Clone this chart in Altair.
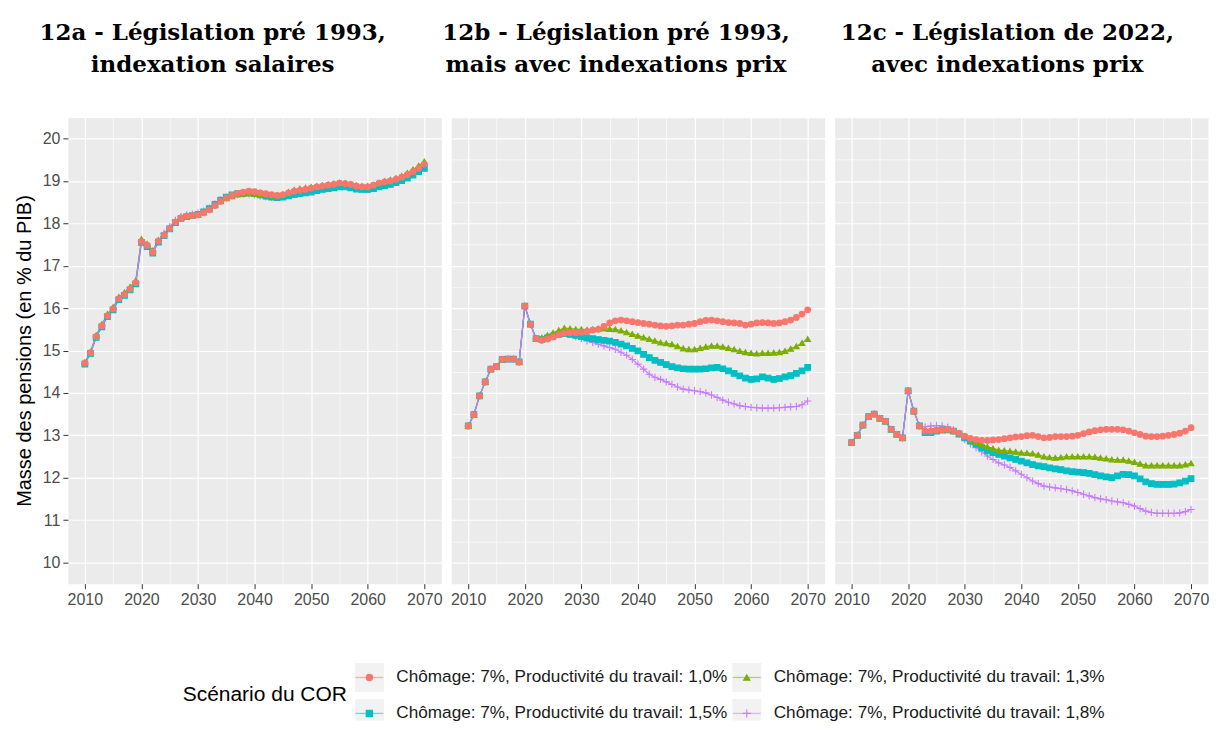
import altair as alt
import pandas as pd

years = list(range(2010, 2071))

series_names = [
    "Chômage: 7%, Productivité du travail: 1,0%",
    "Chômage: 7%, Productivité du travail: 1,3%",
    "Chômage: 7%, Productivité du travail: 1,5%",
    "Chômage: 7%, Productivité du travail: 1,8%",
]
colors = ["#F8766D", "#7CAE00", "#00BFC4", "#C77CFF"]
plus_path = "M-1.3,0H1.3M0,-1.3V1.3"
shapes = ["circle", "triangle-up", "square", plus_path]
legend_title = ["Scénario du COR"]

panel_keys = ["A", "B", "C"]
panel_titles = [
    ["12a - Législation pré 1993,", "indexation salaires"],
    ["12b - Législation pré 1993,", "mais avec indexations prix"],
    ["12c - Législation de 2022,", "avec indexations prix"],
]

# ---- Panel 12a (2010..2070) ----
A_red = [14.70, 14.95, 15.33, 15.58, 15.82, 15.98, 16.22, 16.32, 16.45, 16.60,
         17.57, 17.48, 17.32, 17.58, 17.72, 17.88, 18.03, 18.13, 18.17, 18.18,
         18.20, 18.25, 18.32, 18.42, 18.52, 18.60, 18.66, 18.71, 18.74, 18.76,
         18.75, 18.72, 18.70, 18.68, 18.66, 18.67, 18.72, 18.76, 18.78, 18.80,
         18.83, 18.86, 18.88, 18.90, 18.92, 18.95, 18.94, 18.92, 18.88, 18.86,
         18.86, 18.90, 18.95, 18.98, 19.00, 19.04, 19.09, 19.15, 19.22, 19.30, 19.40]
A_green = [14.72, 14.97, 15.36, 15.62, 15.86, 16.02, 16.26, 16.37, 16.50, 16.65,
           17.63, 17.52, 17.36, 17.60, 17.75, 17.90, 18.05, 18.14, 18.18, 18.20,
           18.21, 18.26, 18.33, 18.43, 18.52, 18.59, 18.64, 18.68, 18.70, 18.71,
           18.70, 18.68, 18.67, 18.66, 18.66, 18.69, 18.74, 18.79, 18.82, 18.84,
           18.86, 18.88, 18.90, 18.92, 18.94, 18.96, 18.95, 18.93, 18.90, 18.88,
           18.88, 18.91, 18.96, 19.00, 19.03, 19.07, 19.12, 19.19, 19.27, 19.36, 19.46]
A_cyan = [14.68, 14.93, 15.31, 15.56, 15.80, 15.96, 16.20, 16.30, 16.43, 16.57,
          17.55, 17.45, 17.30, 17.56, 17.71, 17.87, 18.02, 18.12, 18.16, 18.18,
          18.21, 18.27, 18.35, 18.45, 18.55, 18.62, 18.67, 18.70, 18.71, 18.72,
          18.70, 18.67, 18.64, 18.62, 18.61, 18.62, 18.65, 18.68, 18.70, 18.72,
          18.74, 18.77, 18.80, 18.82, 18.84, 18.86, 18.86, 18.84, 18.81, 18.80,
          18.80, 18.82, 18.86, 18.89, 18.92, 18.96, 19.01, 19.07, 19.14, 19.22, 19.30]
A_purple = [14.70, 14.95, 15.34, 15.60, 15.84, 16.00, 16.24, 16.35, 16.48, 16.62,
            17.58, 17.47, 17.33, 17.60, 17.76, 17.92, 18.07, 18.16, 18.20, 18.22,
            18.24, 18.29, 18.36, 18.46, 18.55, 18.61, 18.65, 18.68, 18.69, 18.70,
            18.68, 18.65, 18.63, 18.62, 18.62, 18.64, 18.68, 18.72, 18.75, 18.77,
            18.79, 18.82, 18.85, 18.87, 18.89, 18.91, 18.91, 18.89, 18.86, 18.84,
            18.84, 18.87, 18.91, 18.94, 18.97, 19.01, 19.06, 19.12, 19.19, 19.27, 19.36]

# ---- Panel 12b: common 2010..2022, then 2023..2070 per scenario ----
B_early = [13.22, 13.49, 13.93, 14.26, 14.56, 14.62, 14.79, 14.80, 14.80, 14.73,
           16.05, 15.62, 15.28]
B_red = [15.24, 15.27, 15.32, 15.37, 15.41, 15.42, 15.42,
         15.43, 15.45, 15.48, 15.50, 15.57, 15.65, 15.70, 15.72, 15.70, 15.68,
         15.66, 15.64, 15.62, 15.60, 15.58, 15.57, 15.58, 15.60, 15.60, 15.62,
         15.64, 15.68, 15.71, 15.72, 15.70, 15.68, 15.66, 15.65, 15.64, 15.60,
         15.62, 15.65, 15.66, 15.65, 15.64, 15.65, 15.68, 15.72, 15.78, 15.86, 15.96]
B_green = [15.30, 15.36, 15.42, 15.48, 15.53, 15.52, 15.50,
           15.50, 15.49, 15.50, 15.52, 15.52, 15.51, 15.50, 15.47, 15.43, 15.39,
           15.35, 15.31, 15.27, 15.23, 15.19, 15.17, 15.15, 15.10, 15.05, 15.03,
           15.03, 15.06, 15.09, 15.11, 15.11, 15.09, 15.06, 15.03, 14.99, 14.96,
           14.94, 14.93, 14.94, 14.94, 14.95, 14.96, 14.99, 15.04, 15.10, 15.18, 15.27]
B_cyan = [15.26, 15.30, 15.34, 15.38, 15.40, 15.38, 15.36,
          15.33, 15.30, 15.28, 15.26, 15.24, 15.22, 15.19, 15.15, 15.11, 15.05,
          14.99, 14.91, 14.83, 14.77, 14.72, 14.67, 14.62, 14.59, 14.57, 14.56,
          14.56, 14.56, 14.57, 14.59, 14.60, 14.57, 14.52, 14.46, 14.40, 14.35,
          14.32, 14.33, 14.38, 14.35, 14.32, 14.34, 14.38, 14.41, 14.46, 14.52, 14.60]
B_purple = [15.28, 15.32, 15.36, 15.40, 15.41, 15.38, 15.33,
            15.28, 15.23, 15.19, 15.15, 15.11, 15.07, 15.03, 14.96, 14.89, 14.79,
            14.68, 14.56, 14.44, 14.37, 14.32, 14.26, 14.20, 14.14, 14.09, 14.07,
            14.05, 14.03, 14.00, 13.95, 13.89, 13.83, 13.78, 13.74, 13.70, 13.68,
            13.66, 13.65, 13.64, 13.64, 13.64, 13.65, 13.66, 13.67, 13.68, 13.72, 13.81]

# ---- Panel 12c: common 2010..2022, then 2023..2070 per scenario ----
C_early = [12.83, 13.00, 13.24, 13.44, 13.50, 13.40, 13.33, 13.14, 13.02, 12.94,
           14.05, 13.57, 13.22]
C_red = [13.10, 13.10, 13.12, 13.13, 13.14, 13.10, 13.05,
         12.98, 12.93, 12.90, 12.88, 12.88, 12.89, 12.90, 12.92, 12.94, 12.96,
         12.97, 12.99, 13.00, 12.97, 12.94, 12.95, 12.97, 12.97, 12.97, 12.98,
         13.00, 13.04, 13.08, 13.11, 13.13, 13.14, 13.14, 13.14, 13.13, 13.10,
         13.06, 13.02, 12.98, 12.97, 12.97, 12.98, 13.00, 13.02, 13.05, 13.10, 13.18]
C_green = [13.12, 13.12, 13.13, 13.14, 13.14, 13.11, 13.05,
           12.97, 12.90, 12.84, 12.78, 12.73, 12.69, 12.65, 12.64, 12.63, 12.61,
           12.59, 12.58, 12.57, 12.54, 12.50, 12.48, 12.47, 12.48, 12.50, 12.50,
           12.50, 12.50, 12.50, 12.49, 12.47, 12.45, 12.43, 12.42, 12.42, 12.40,
           12.37, 12.33, 12.29, 12.29, 12.29, 12.29, 12.29, 12.29, 12.29, 12.31, 12.34]
C_cyan = [13.06, 13.06, 13.10, 13.12, 13.13, 13.10, 13.03,
          12.94, 12.86, 12.79, 12.71, 12.63, 12.59, 12.55, 12.51, 12.47, 12.43,
          12.39, 12.35, 12.31, 12.28, 12.26, 12.23, 12.21, 12.19, 12.16, 12.14,
          12.13, 12.12, 12.10, 12.07, 12.04, 12.02, 12.00, 12.04, 12.08, 12.07,
          12.04, 11.97, 11.90, 11.86, 11.84, 11.84, 11.84, 11.85, 11.88, 11.92, 11.98]
C_purple = [13.20, 13.22, 13.23, 13.22, 13.19, 13.13, 13.02,
            12.90, 12.80, 12.71, 12.61, 12.51, 12.43, 12.35, 12.30, 12.24, 12.16,
            12.08, 12.00, 11.92, 11.86, 11.80, 11.78, 11.76, 11.74, 11.72, 11.69,
            11.65, 11.61, 11.57, 11.53, 11.50, 11.48, 11.45, 11.43, 11.41, 11.37,
            11.33, 11.27, 11.21, 11.18, 11.16, 11.16, 11.16, 11.16, 11.17, 11.20, 11.25]

panel_series = {
    "A": [A_red, A_green, A_cyan, A_purple],
    "B": [B_early + B_red, B_early + B_green, B_early + B_cyan, B_early + B_purple],
    "C": [C_early + C_red, C_early + C_green, C_early + C_cyan, C_early + C_purple],
}

rows = []
for key in panel_keys:
    for i, (name, vals) in enumerate(zip(series_names, panel_series[key])):
        for yr, v in zip(years, vals):
            rows.append({"panel": key, "series": name, "idx": i, "year": yr, "value": v})
df = pd.DataFrame(rows)

legend_df = pd.DataFrame({"series": series_names, "idx": list(range(len(series_names)))})
legend_title_df = pd.DataFrame({"title": legend_title})

FONT = "Liberation Sans"
color_scale = alt.Scale(domain=series_names, range=colors)
shape_scale = alt.Scale(domain=series_names, range=shapes)

x_major = "datum.value % 10 === 0"
y_major = "datum.value % 1 === 0"

x_axis = alt.Axis(
    values=list(range(2010, 2071, 5)),
    format="d",
    labelExpr="datum.value % 10 === 0 ? datum.label : ''",
    grid=True,
    gridColor="#FFFFFF",
    gridWidth={"condition": {"test": x_major, "value": 1.2}, "value": 0.6},
    tickOpacity={"condition": {"test": x_major, "value": 1}, "value": 0},
    tickColor="#333333",
    tickSize=5,
    tickWidth=1,
    labelColor="#4D4D4D",
    labelFont=FONT,
    labelFontSize=16,
    labelPadding=3,
    domain=False,
)

y_values = [v / 2 for v in range(20, 42)]


def y_axis(first):
    if first:
        return alt.Axis(
            values=y_values,
            format="d",
            labelExpr="datum.value % 1 === 0 ? datum.label : ''",
            grid=True,
            gridColor="#FFFFFF",
            gridWidth={"condition": {"test": y_major, "value": 1.2}, "value": 0.6},
            tickOpacity={"condition": {"test": y_major, "value": 1}, "value": 0},
            tickColor="#333333",
            tickSize=5,
            tickWidth=1,
            labelColor="#4D4D4D",
            labelFont=FONT,
            labelFontSize=16,
            labelPadding=3,
            domain=False,
            titleFont=FONT,
            titleFontSize=20,
            titleFontWeight="normal",
            titleColor="#000000",
            titlePadding=8,
        )
    return alt.Axis(
        values=y_values,
        labels=False,
        ticks=False,
        grid=True,
        gridColor="#FFFFFF",
        gridWidth={"condition": {"test": y_major, "value": 1.2}, "value": 0.6},
        domain=False,
    )


title_dx = [-42, -22, -14]


def make_panel(i):
    key = panel_keys[i]
    first = i == 0
    base = alt.Chart(df).transform_filter(alt.datum.panel == key)
    x = alt.X("year:Q", scale=alt.Scale(domain=[2007, 2073], nice=False, zero=False),
              axis=x_axis, title=None)
    y = alt.Y("value:Q", scale=alt.Scale(domain=[9.5, 20.5], nice=False, zero=False),
              axis=y_axis(first),
              title="Masse des pensions (en % du PIB)" if first else None)
    color = alt.Color("series:N", scale=color_scale, legend=None)
    lines = base.mark_line(strokeWidth=1.2).encode(x=x, y=y, color=color)
    points = base.mark_point(filled=True, size=32, strokeWidth=1.1, opacity=1).encode(
        x=x,
        y=y,
        color=color,
        stroke=alt.Stroke("series:N", scale=color_scale, legend=None),
        shape=alt.Shape("series:N", scale=shape_scale, legend=None),
        order=alt.Order("idx:Q", sort="descending"),
    )
    return alt.layer(lines, points).properties(
        width=374,
        height=467,
        view=alt.ViewBackground(fill="#EBEBEB", stroke="transparent"),
        title=alt.Title(
            panel_titles[i],
            font="DejaVu Serif",
            fontSize=23,
            fontWeight="bold",
            color="#000000",
            anchor="middle",
            dx=title_dx[i],
            lineHeight=33,
            offset=40,
        ),
    )


# ---- legend, drawn like ggplot's: grey key, short line, marker, label ----
leg = alt.Chart(legend_df).transform_calculate(
    col="datum.idx % 2", row="floor(datum.idx / 2)"
)
lx = alt.X("col:Q", scale=alt.Scale(domain=[0, 1], range=[302, 680]), axis=None)
ly = alt.Y("row:Q", scale=alt.Scale(domain=[0, 1], range=[68, 104]), axis=None)
lcolor = alt.Color("series:N", scale=color_scale, legend=None)

key_bg = leg.mark_square(size=840, color="#F2F2F2", opacity=1, clip=True).encode(x=lx, y=ly)
key_line = leg.mark_point(shape="M-1,0H1", filled=False, size=784, strokeWidth=1.3,
                          strokeOpacity=0.75, clip=True).encode(x=lx, y=ly, color=lcolor)
key_mark = leg.mark_point(filled=True, size=40, strokeWidth=1.1, opacity=1, clip=True).encode(
    x=lx,
    y=ly,
    color=lcolor,
    stroke=alt.Stroke("series:N", scale=color_scale, legend=None),
    shape=alt.Shape("series:N", scale=shape_scale, legend=None),
)
key_text = leg.mark_text(align="left", baseline="middle", dx=27, font=FONT, fontSize=17.2,
                         color="#1A1A1A").encode(x=lx, y=ly, text="series:N")
title_text = alt.Chart(legend_title_df).mark_text(
    align="left", baseline="middle", font=FONT, fontSize=21, color="#000000"
).encode(x=alt.value(115), y=alt.value(86), text="title:N")

legend_chart = alt.layer(key_bg, key_line, key_mark, key_text, title_text).properties(
    width=1080, height=111, view=alt.ViewBackground(fill="transparent", stroke="transparent")
)

panels = alt.hconcat(make_panel(0), make_panel(1), make_panel(2), spacing=10, bounds="flush")

chart = alt.vconcat(panels, legend_chart, spacing=0).properties(
    padding={"left": 5, "top": 12, "right": 0, "bottom": 0}
).configure_view(
    stroke="transparent"
).configure(background="#FFFFFF")

chart.save("out.html", embed_options={"renderer": "svg", "actions": False})
